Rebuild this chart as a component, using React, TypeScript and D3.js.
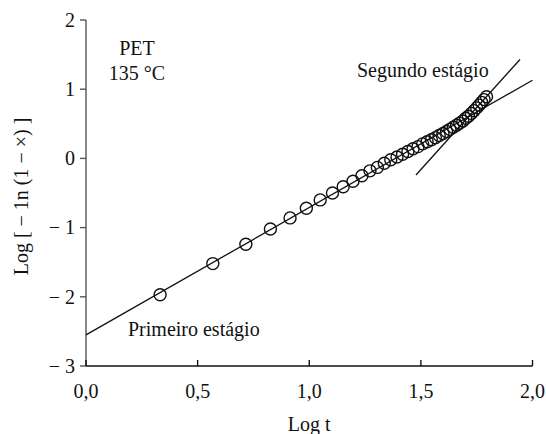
import React from "react";
import * as d3 from "d3";

const logT = [0.332, 0.568, 0.716, 0.826, 0.914, 0.987, 1.049, 1.104, 1.152, 1.196, 1.236, 1.272, 1.305, 1.336, 1.365, 1.393, 1.418, 1.442, 1.465, 1.487, 1.508, 1.528, 1.547, 1.565, 1.582, 1.599, 1.615, 1.630, 1.645, 1.660, 1.674, 1.688, 1.701, 1.713, 1.726, 1.738, 1.750, 1.761, 1.772, 1.783, 1.794];
const logK = [-1.97, -1.52, -1.24, -1.02, -0.86, -0.72, -0.60, -0.50, -0.41, -0.33, -0.25, -0.18, -0.13, -0.07, -0.02, 0.02, 0.06, 0.10, 0.14, 0.17, 0.21, 0.24, 0.27, 0.30, 0.33, 0.36, 0.39, 0.42, 0.45, 0.48, 0.51, 0.54, 0.58, 0.61, 0.65, 0.69, 0.73, 0.77, 0.81, 0.85, 0.89];

const stage1Line = [[0, -2.55], [2.0, 1.13]];
const stage2Line = [[1.478, -0.24], [1.944, 1.43]];

const xTicks = [0, 0.5, 1.0, 1.5, 2.0];
const xTickLabels = ["0,0", "0,5", "1,0", "1,5", "2,0"];
const yTicks = [2, 1, 0, -1, -2, -3];
const yTickLabels = ["2", "1", "0", "\u2212 1", "\u2212 2", "\u2212 3"];

export default function App() {
  const W = 546, H = 434;
  const x = d3.scaleLinear().domain([0, 2]).range([86, 532.5]);
  const y = d3.scaleLinear().domain([-3, 2]).range([366, 20]);
  const font = "'Liberation Serif', 'Times New Roman', serif";
  const line = d3.line<number[]>().x(d => x(d[0])).y(d => y(d[1]));
  const fs = 20;
  const ink = "#111";
  return (
    <svg width={W} height={H} style={{ position: "absolute", left: 0, top: 0, background: "#fff" }} fontFamily={font}>
      <line x1={x(0)} x2={x(0)} y1={y(2)} y2={y(-3)} stroke="#555" strokeWidth={1.4} />
      {yTicks.map((t, i) => (
        <g key={"y" + t}>
          <line x1={x(0) - 6} x2={x(0)} y1={y(t)} y2={y(t)} stroke="#555" strokeWidth={1.4} />
          <text x={x(0) - 11} y={y(t)} dy="0.34em" textAnchor="end" fontSize={fs} fill={ink}>{yTickLabels[i]}</text>
        </g>
      ))}
      <line x1={x(0)} x2={x(2)} y1={y(-3)} y2={y(-3)} stroke={ink} strokeWidth={1.4} />
      {xTicks.map((t, i) => (
        <g key={"x" + t}>
          <line x1={x(t)} x2={x(t)} y1={y(-3)} y2={y(-3) - 6} stroke={ink} strokeWidth={1.4} />
          <text x={x(t)} y={398} textAnchor="middle" fontSize={fs} fill={ink}>{xTickLabels[i]}</text>
        </g>
      ))}
      <text x={x(1)} y={431} textAnchor="middle" fontSize={fs} fill={ink}>Log t</text>
      <text transform={`translate(28,${y(-0.55)}) rotate(-90)`} textAnchor="middle" fontSize={fs} fill={ink}>
        {"Log [ \u2212 1n (1 \u2212 \u00d7) ]"}
      </text>
      <path d={line(stage1Line) || ""} stroke={ink} strokeWidth={1.3} fill="none" />
      <path d={line(stage2Line) || ""} stroke={ink} strokeWidth={1.3} fill="none" />
      {logT.map((v, i) => (
        <circle key={i} cx={x(v)} cy={y(logK[i])} r={6} fill="none" stroke={ink} strokeWidth={1.4} />
      ))}
      <text x={137} y={55} textAnchor="middle" fontSize={fs} fill={ink}>PET</text>
      <text x={137} y={80} textAnchor="middle" fontSize={fs} fill={ink}>135 °C</text>
      <text x={357} y={77} fontSize={fs} fill={ink}>Segundo estágio</text>
      <text x={128} y={336} fontSize={fs} fill={ink}>Primeiro estágio</text>
    </svg>
  );
}
